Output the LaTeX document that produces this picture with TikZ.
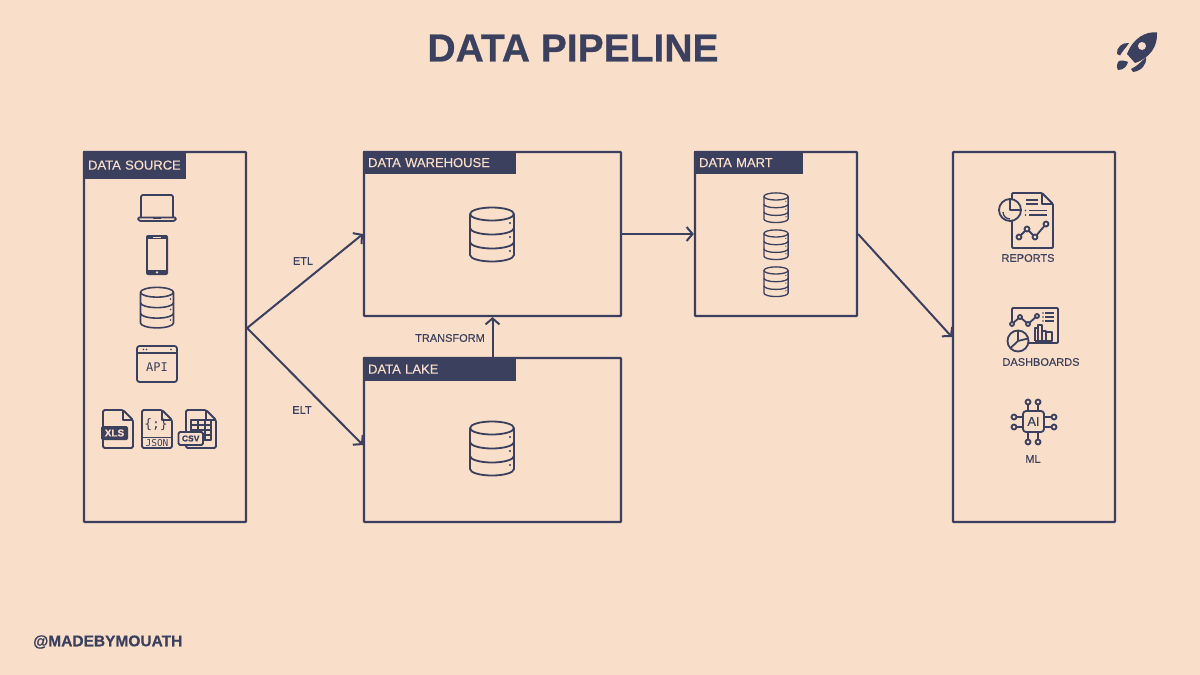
\documentclass[tikz,border=0pt]{standalone}
\usepackage{fontspec}
\setmainfont{Liberation Sans}
\setmonofont{DejaVu Sans Mono}
\newfontfamily\medium[FakeBold=.25]{Liberation Sans}
\newfontfamily\heavy[BoldFeatures={FakeBold=.6}]{Liberation Sans}
\usepackage{tikz}
\usetikzlibrary{arrows.meta}
\definecolor{navy}{HTML}{3A405E}
\definecolor{peach}{HTML}{F9DEC9}
\tikzset{
  dbicon/.pic={
    \draw[icon] (-22,-21) -- (-22,20) arc[start angle=180,end angle=0,x radius=22,y radius=6.5] -- (22,-21);
    \draw[icon] (0,-21) ellipse[x radius=22,y radius=6.5];
    \draw[icon] (-22,-7) arc[start angle=180,end angle=0,x radius=22,y radius=6.5];
    \draw[icon] (-22,7) arc[start angle=180,end angle=0,x radius=22,y radius=6.5];
    \foreach \y in {-12,2,16} \fill[navy] (18,\y) circle[radius=1.2];
  },
  filesheet/.pic={
    \draw[icon,rounded corners=1.5pt] (0,0) -- (20,0) -- (30,10) -- (30,38) -- (0,38) -- cycle;
    \draw[icon] (20,0) -- (20,10) -- (30,10);
  }
}
\begin{document}
\begin{tikzpicture}[
    x=1pt, y=-1pt,
    font=\medium\fontsize{11}{13}\selectfont,
    every node/.style={text=navy, inner sep=0pt},
    box/.style={draw=navy, line width=2.2pt, rounded corners=.6pt, minimum width=#1},
    tag/.style={fill=navy, text=peach, anchor=north west, align=left,
      font=\medium\fontsize{13}{15}\selectfont, text width=#1},
    icon/.style={draw=navy, line width=1.8pt, line join=round},
    thin icon/.style={draw=navy, line width=1.3pt, line join=round},
    small db/.style={scale=.55, icon/.append style={line width=1.3pt}},
    mid db/.style={scale=.75, icon/.append style={line width=1.6pt}},
    link/.style={draw=navy, line width=2pt, -{Straight Barb[length=6pt,width=14pt,line width=2pt]}},
  ]
  \fill[peach] (0,0) rectangle (1200,675);
  \useasboundingbox (0,0) rectangle (1200,675);

  \node[font=\heavy\bfseries\fontsize{39}{44}\selectfont] (title) at (573,48) {DATA PIPELINE};
  \node[font=\heavy\bfseries\fontsize{15.5}{17}\selectfont, anchor=west] (handle) at (33,642) {@MADEBYMOUATH};

  % boxes
  \node[box=162pt, minimum height=370pt] (source) at (165,337) {};
  \node[box=257pt, minimum height=164pt] (warehouse) at (492.5,234) {};
  \node[box=257pt, minimum height=164pt] (lake) at (492.5,440) {};
  \node[box=162pt, minimum height=164pt] (mart) at (776,234) {};
  \node[box=162pt, minimum height=370pt] (output) at (1034,337) {};

  % tags
  \node[tag=93pt, minimum height=28pt, inner xsep=5pt] (sourcetag) at (source.north west) {DATA SOURCE};
  \node[tag=143pt, minimum height=23pt, inner xsep=5pt] (warehousetag) at (warehouse.north west) {DATA WAREHOUSE};
  \node[tag=143pt, minimum height=24pt, inner xsep=5pt] (laketag) at (lake.north west) {DATA LAKE};
  \node[tag=99pt, minimum height=23pt, inner xsep=5pt] (marttag) at (mart.north west) {DATA MART};

  % links
  \draw[link] ([yshift=9pt]source.east) -- (warehouse.west);
  \draw[link] ([yshift=9pt]source.east) -- ([yshift=-5pt]lake.west);
  \draw[link] (warehouse.east) -- (mart.west);
  \draw[link] (lake.north) -- (warehouse.south);
  \draw[link] (mart.east) -- (output.west);
  \node (etl) at (303,261) {ETL};
  \node (elt) at (302,410) {ELT};
  \node (transform) at (450,338) {TRANSFORM};

  % database icons
  \pic at (492,235) {dbicon};
  \pic at (492,449) {dbicon};
  \pic[small db] at (776,208) {dbicon};
  \pic[small db] at (776,245) {dbicon};
  \pic[small db] at (776,282) {dbicon};
  \pic[mid db] at (157,308) {dbicon};

  % laptop
  \draw[icon,rounded corners=2pt] (141,217) -- (141,195) -- (173,195) -- (173,217);
  \draw[icon,rounded corners=1.5pt] (137.5,217.5) -- (176.5,217.5) -- (175,221) -- (139,221) -- cycle;
  \draw[navy,line width=1.2pt] (153,218) -- (161,218);

  % phone
  \fill[navy,rounded corners=2pt] (146,235) rectangle (168,275);
  \fill[peach] (148,239) rectangle (166,269.5);
  \draw[peach,line width=.8pt] (153,237) -- (161,237);
  \fill[peach] (157,272.3) circle[radius=1.3];

  % api
  \draw[icon,rounded corners=2.5pt] (137,346) rectangle (177,382);
  \draw[icon] (137,353) -- (177,353);
  \foreach \x in {143.5,146.5,171} \fill[navy] (\x,349.5) circle[radius=.9];
  \node[font=\ttfamily\fontsize{12}{12}\selectfont] (api) at (157,367) {API};

  % files
  \pic at (103,410) {filesheet};
  \fill[navy,rounded corners=1.5pt] (101,426) rectangle (128,440);
  \node[font=\heavy\bfseries\fontsize{10}{10}\selectfont, text=peach] (xls) at (114.5,433) {XLS};
  \pic at (142,410) {filesheet};
  \draw[icon] (142,437.5) -- (172,437.5);
  \node[font=\ttfamily\fontsize{13}{13}\selectfont] (braces) at (156,425) {\{;\}};
  \node[font=\ttfamily\fontsize{9.5}{9.5}\selectfont] (json) at (157,443) {JSON};
  \pic at (186,410) {filesheet};
  \draw[thin icon] (191,420) rectangle (211,440);
  \foreach \y in {425,430,435} \draw[thin icon] (191,\y) -- (211,\y);
  \foreach \x in {198,205} \draw[thin icon] (\x,420) -- (\x,440);
  \draw[icon,fill=peach,rounded corners=1.5pt] (178.5,432) rectangle (203,445);
  \node[font=\heavy\bfseries\fontsize{8.5}{9}\selectfont] (csv) at (190.7,438.5) {CSV};

  % reports
  \draw[icon,rounded corners=1pt] (1012,193) -- (1042,193) -- (1053,204) -- (1053,248) -- (1012,248) -- cycle;
  \draw[icon] (1042,193) -- (1042,204) -- (1053,204);
  \draw[icon,fill=peach] (1010,210) circle[radius=11];
  \draw[icon] (1010,199) -- (1010,210) -- (1021,210);
  \draw[thin icon] (1003,212) arc[start angle=180,end angle=90,radius=7];
  \foreach \y/\xa/\xb in {200/1026/1038, 204/1026/1038, 210.5/1029/1047, 215/1029/1047}
    \draw[navy,line width=1.4pt] (\xa,\y) -- (\xb,\y);
  \foreach \y in {210.5,215} \fill[navy] (1025.5,\y) circle[radius=.9];
  \draw[icon] (1019,237) -- (1027,229) -- (1035,237) -- (1046,224);
  \foreach \x/\y in {1019/237,1027/229,1035/237,1046/224} \draw[icon,fill=peach] (\x,\y) circle[radius=2.5];
  \node (reports) at (1028,258) {REPORTS};

  % dashboards
  \draw[icon,rounded corners=1pt] (1012,322) -- (1012,308) -- (1058,308) -- (1058,343) -- (1027,343);
  \draw[icon] (1012,324) -- (1020,317) -- (1028,324) -- (1037,316);
  \foreach \x/\y in {1012/324,1020/317,1028/324,1037/316} \draw[icon,fill=peach] (\x,\y) circle[radius=2];
  \foreach \y in {313,317,321} {
    \draw[navy,line width=1.2pt] (1045,\y) -- (1054,\y);
    \fill[navy] (1043,\y) circle[radius=.8];
  }
  \draw[thin icon] (1035,341) -- (1035,328) -- (1038,328) -- (1038,341) (1038,341) -- (1038,325) -- (1042,325) -- (1042,341)
    (1042,341) -- (1042,331) -- (1046,331) -- (1046,341) (1046,341) -- (1046,332) -- (1052,332) -- (1052,341) -- (1035,341);
  \draw[icon,fill=peach] (1018,341) circle[radius=10.5];
  \draw[icon] (1018,330.5) -- (1018,341) -- (1028,338.5) (1018,341) -- (1010.5,348);
  \node (dashboards) at (1041,362) {DASHBOARDS};

  % ml
  \draw[icon,rounded corners=3pt] (1023,411) rectangle (1044,432);
  \node[font=\medium\fontsize{13}{13}\selectfont] (ai) at (1033.5,421.5) {AI};
  \foreach \x in {1028,1038} {
    \draw[icon] (\x,411) -- (\x,404.5);
    \draw[icon] (\x,402) circle[radius=2.5];
    \draw[icon] (\x,432) -- (\x,439.5);
    \draw[icon] (\x,442) circle[radius=2.5];
  }
  \foreach \y in {417,427} {
    \draw[icon] (1023,\y) -- (1016.5,\y);
    \draw[icon] (1014,\y) circle[radius=2.5];
    \draw[icon] (1044,\y) -- (1051.5,\y);
    \draw[icon] (1054,\y) circle[radius=2.5];
  }
  \node (ml) at (1033,459) {ML};

  % rocket
  \fill[navy] (1157,32.5) .. controls (1146,31) and (1133,38) .. (1127,54) -- (1135,63)
    .. controls (1150,58) and (1158,46) .. (1157,32.5) -- cycle;
  \fill[peach] (1142,46) circle[radius=4];
  \fill[navy] (1129,43) .. controls (1122,42) and (1116,48) .. (1117,54) -- (1120,55.5) .. controls (1123,50) and (1126,48) .. (1129,43) -- cycle;
  \fill[navy] (1146,57) .. controls (1147,65) and (1141,71) .. (1133,72) -- (1131,69) .. controls (1137,66) and (1140,63) .. (1146,57) -- cycle;
  \fill[navy] (1119,61) .. controls (1122,60) and (1126,61) .. (1128,62) .. controls (1127,66) and (1124,70) .. (1118,70) .. controls (1116,67) and (1117,63) .. (1119,61) -- cycle;
\end{tikzpicture}
\end{document}
